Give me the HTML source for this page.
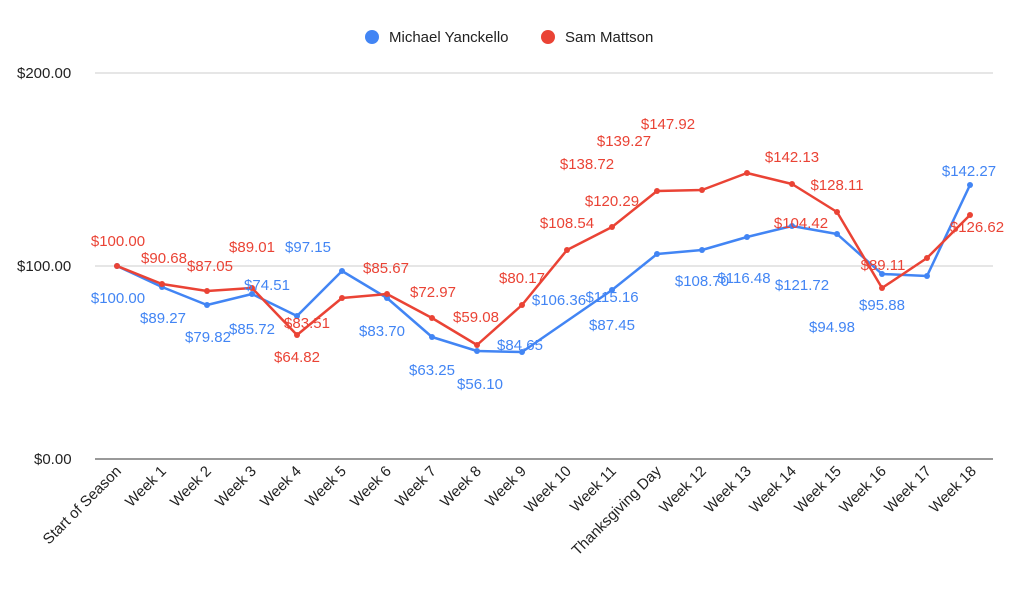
<!DOCTYPE html>
<html><head><style>body{margin:0;background:#fff}svg{display:block;font-family:"Liberation Sans",Arial,sans-serif}</style></head><body>
<svg width="1023" height="593" viewBox="0 0 1023 593" xmlns="http://www.w3.org/2000/svg">
<rect width="1023" height="593" fill="#fff"/>
<circle cx="372" cy="37" r="7" fill="#4285f4"/><text x="389" y="42" font-size="15" fill="#222">Michael Yanckello</text>
<circle cx="548" cy="37" r="7" fill="#ea4335"/><text x="565" y="42" font-size="15" fill="#222">Sam Mattson</text>
<g stroke="#ccc" stroke-width="1"><line x1="95" y1="73" x2="993" y2="73"/><line x1="95" y1="266" x2="993" y2="266"/></g>
<line x1="95" y1="459" x2="993" y2="459" stroke="#333"/>
<g font-size="15" fill="#222"><text x="17" y="78">$200.00</text><text x="17" y="271">$100.00</text><text x="34" y="464">$0.00</text></g>
<g font-size="15" fill="#222" text-anchor="end">
<text transform="translate(122,472) rotate(-45)">Start of Season</text>
<text transform="translate(167,472) rotate(-45)">Week 1</text>
<text transform="translate(212,472) rotate(-45)">Week 2</text>
<text transform="translate(257,472) rotate(-45)">Week 3</text>
<text transform="translate(302,472) rotate(-45)">Week 4</text>
<text transform="translate(347,472) rotate(-45)">Week 5</text>
<text transform="translate(392,472) rotate(-45)">Week 6</text>
<text transform="translate(437,472) rotate(-45)">Week 7</text>
<text transform="translate(482,472) rotate(-45)">Week 8</text>
<text transform="translate(527,472) rotate(-45)">Week 9</text>
<text transform="translate(572,472) rotate(-45)">Week 10</text>
<text transform="translate(617,472) rotate(-45)">Week 11</text>
<text transform="translate(662,472) rotate(-45)">Thanksgiving Day</text>
<text transform="translate(707,472) rotate(-45)">Week 12</text>
<text transform="translate(752,472) rotate(-45)">Week 13</text>
<text transform="translate(797,472) rotate(-45)">Week 14</text>
<text transform="translate(842,472) rotate(-45)">Week 15</text>
<text transform="translate(887,472) rotate(-45)">Week 16</text>
<text transform="translate(932,472) rotate(-45)">Week 17</text>
<text transform="translate(977,472) rotate(-45)">Week 18</text>
</g>
<polyline fill="none" stroke="#4285f4" stroke-width="2.5" stroke-linejoin="round" points="117,266 162,287 207,305 252,294 297,316 342,271 387,298 432,337 477,351 522,352 567,321 612,290 657,254 702,250 747,237 792,226 837,234 882,274 927,276 970,185"/>
<polyline fill="none" stroke="#ea4335" stroke-width="2.5" stroke-linejoin="round" points="117,266 162,284 207,291 252,288 297,335 342,298 387,294 432,318 477,345 522,305 567,250 612,227 657,191 702,190 747,173 792,184 837,212 882,288 927,258 970,215"/>
<g fill="#4285f4"><circle cx="117" cy="266" r="3"/><circle cx="162" cy="287" r="3"/><circle cx="207" cy="305" r="3"/><circle cx="252" cy="294" r="3"/><circle cx="297" cy="316" r="3"/><circle cx="342" cy="271" r="3"/><circle cx="387" cy="298" r="3"/><circle cx="432" cy="337" r="3"/><circle cx="477" cy="351" r="3"/><circle cx="522" cy="352" r="3"/><circle cx="612" cy="290" r="3"/><circle cx="657" cy="254" r="3"/><circle cx="702" cy="250" r="3"/><circle cx="747" cy="237" r="3"/><circle cx="792" cy="226" r="3"/><circle cx="837" cy="234" r="3"/><circle cx="882" cy="274" r="3"/><circle cx="927" cy="276" r="3"/><circle cx="970" cy="185" r="3"/></g>
<g fill="#ea4335"><circle cx="117" cy="266" r="3"/><circle cx="162" cy="284" r="3"/><circle cx="207" cy="291" r="3"/><circle cx="252" cy="288" r="3"/><circle cx="297" cy="335" r="3"/><circle cx="342" cy="298" r="3"/><circle cx="387" cy="294" r="3"/><circle cx="432" cy="318" r="3"/><circle cx="477" cy="345" r="3"/><circle cx="522" cy="305" r="3"/><circle cx="567" cy="250" r="3"/><circle cx="612" cy="227" r="3"/><circle cx="657" cy="191" r="3"/><circle cx="702" cy="190" r="3"/><circle cx="747" cy="173" r="3"/><circle cx="792" cy="184" r="3"/><circle cx="837" cy="212" r="3"/><circle cx="882" cy="288" r="3"/><circle cx="927" cy="258" r="3"/><circle cx="970" cy="215" r="3"/></g>
<g font-size="15" fill="#ea4335" text-anchor="middle">
<text x="118" y="246">$100.00</text><text x="164" y="263">$90.68</text><text x="210" y="271">$87.05</text><text x="252" y="252">$89.01</text><text x="297" y="362">$64.82</text><text x="307" y="328">$83.51</text><text x="386" y="273">$85.67</text><text x="433" y="297">$72.97</text><text x="476" y="322">$59.08</text><text x="522" y="283">$80.17</text><text x="567" y="228">$108.54</text><text x="612" y="206">$120.29</text><text x="587" y="169">$138.72</text><text x="624" y="146">$139.27</text><text x="668" y="129">$147.92</text><text x="792" y="162">$142.13</text><text x="837" y="190">$128.11</text><text x="883" y="270">$89.11</text><text x="801" y="228">$104.42</text><text x="977" y="232">$126.62</text>
</g>
<g font-size="15" fill="#4285f4" text-anchor="middle">
<text x="118" y="303">$100.00</text><text x="163" y="323">$89.27</text><text x="208" y="342">$79.82</text><text x="267" y="290">$74.51</text><text x="252" y="334">$85.72</text><text x="308" y="252">$97.15</text><text x="382" y="336">$83.70</text><text x="432" y="375">$63.25</text><text x="480" y="389">$56.10</text><text x="520" y="350">$84.65</text><text x="612" y="302">$115.16</text><text x="559" y="305">$106.36</text><text x="612" y="330">$87.45</text><text x="702" y="286">$108.70</text><text x="744" y="283">$116.48</text><text x="802" y="290">$121.72</text><text x="832" y="332">$94.98</text><text x="882" y="310">$95.88</text><text x="969" y="176">$142.27</text>
</g>
</svg>
</body></html>
